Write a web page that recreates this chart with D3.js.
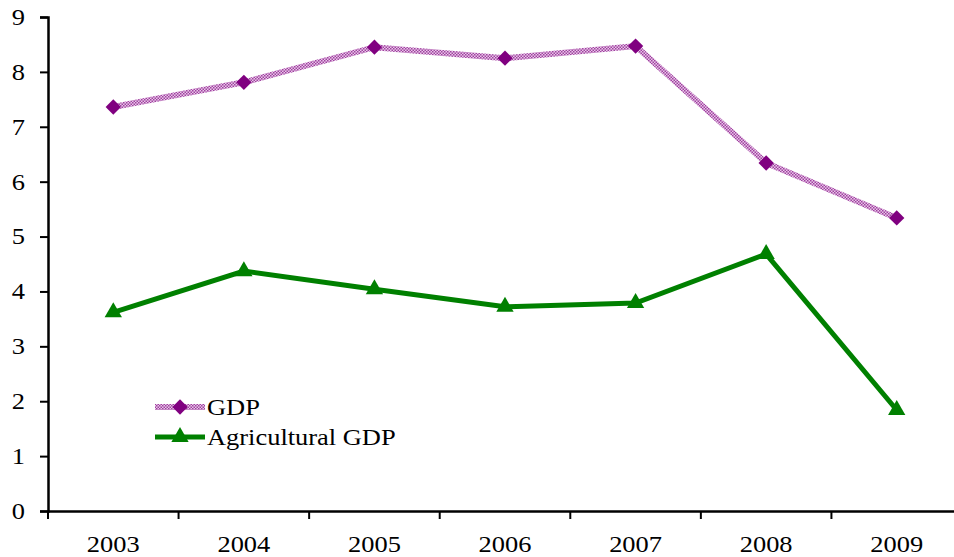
<!DOCTYPE html>
<html><head><meta charset="utf-8">
<script src="https://cdn.jsdelivr.net/npm/d3@7"></script>
<style>body{margin:0;background:#fff}svg{display:block}text{font-family:"Liberation Serif","Times New Roman",serif}</style>
</head><body>
<script>
const years = ["2003","2004","2005","2006","2007","2008","2009"];
const gdp = [7.36, 7.81, 8.45, 8.25, 8.47, 6.34, 5.34];
const agri = [3.62, 4.37, 4.04, 3.72, 3.79, 4.68, 1.84];
const yTicks = [0,1,2,3,4,5,6,7,8,9];
const seriesNames = ["GDP","Agricultural GDP"];

const W=954,H=557, FS=23, SX=1.15;
const svg=d3.select("body").append("svg").attr("width",W).attr("height",H);
const defs=svg.append("defs");
const pat=defs.append("pattern").attr("id","chk").attr("patternUnits","userSpaceOnUse").attr("width",3).attr("height",3);
pat.append("rect").attr("width",3).attr("height",3).attr("fill","#e8c8e8");
pat.append("rect").attr("width",1.5).attr("height",1.5).attr("fill","#a040a0");
pat.append("rect").attr("x",1.5).attr("y",1.5).attr("width",1.5).attr("height",1.5).attr("fill","#a040a0");

const x=d3.scaleBand().domain(years).range([48,962]);
const y=d3.scaleLinear().domain([0,9]).range([511,17]);

// axes
const ya=svg.append("g").attr("transform","translate(48,0)")
  .call(d3.axisLeft(y).tickValues(yTicks).tickSize(8).tickPadding(12).tickFormat(d3.format("d")));
const xa=svg.append("g").attr("transform","translate(0,511)")
  .call(d3.axisBottom(x).tickSize(0).tickPadding(25));
[ya,xa].forEach(g=>{g.select(".domain").attr("stroke","#000").attr("stroke-width",2.5);
  g.selectAll("line").attr("stroke","#000").attr("stroke-width",2);
  g.selectAll("text").attr("font-size",FS).attr("fill","#000").attr("font-family","Liberation Serif").attr("transform",`scale(${SX},1)`);});
xa.selectAll("text").attr("dy","0.71em");
// x ticks at band boundaries
const bounds=d3.range(years.length+1).map(i=>48+x.step()*i).filter(v=>v<W);
xa.selectAll(".bt").data(bounds).enter().append("line")
  .attr("x1",d=>d).attr("x2",d=>d).attr("y1",0).attr("y2",8).attr("stroke","#000").attr("stroke-width",2);

const cx=d=>x(d)+x.bandwidth()/2;
const line=d3.line().x((d,i)=>cx(years[i])).y(d=>y(d));

svg.append("path").datum(gdp).attr("d",line).attr("fill","none").attr("stroke","url(#chk)").attr("stroke-width",6);
svg.append("path").datum(agri).attr("d",line).attr("fill","none").attr("stroke","#008000").attr("stroke-width",5);

const diamond=d3.symbol().type(d3.symbolDiamond2).size(150);
const tri=d3.symbol().type(d3.symbolTriangle).size(130);
svg.selectAll(".gm").data(gdp).enter().append("path")
  .attr("transform",(d,i)=>`translate(${cx(years[i])},${y(d)})`).attr("d",diamond).attr("fill","#800080");
svg.selectAll(".am").data(agri).enter().append("path")
  .attr("transform",(d,i)=>`translate(${cx(years[i])},${y(d)})`).attr("d",tri).attr("fill","#008000");

// legend
const lg=svg.append("g");
lg.append("line").attr("x1",155).attr("x2",205).attr("y1",407).attr("y2",407).attr("stroke","url(#chk)").attr("stroke-width",6);
lg.append("path").attr("transform","translate(180,407)").attr("d",diamond).attr("fill","#800080");
lg.append("line").attr("x1",155).attr("x2",205).attr("y1",437).attr("y2",437).attr("stroke","#008000").attr("stroke-width",5);
lg.append("path").attr("transform","translate(180,437)").attr("d",tri).attr("fill","#008000");
lg.append("text").attr("transform",`translate(207,415) scale(${SX},1)`).attr("font-size",FS).text(seriesNames[0]);
lg.append("text").attr("transform",`translate(207,445) scale(${SX},1)`).attr("font-size",FS).text(seriesNames[1]);
</script>
</body></html>
